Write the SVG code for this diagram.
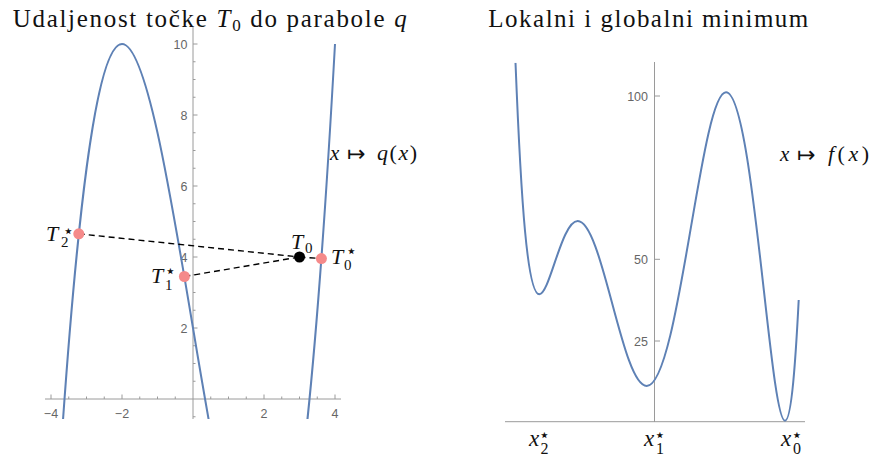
<svg xmlns="http://www.w3.org/2000/svg" width="872" height="460" viewBox="0 0 872 460">
<style>
.title{font-family:"Liberation Serif","DejaVu Serif",serif;font-size:25px;fill:#111}
.m{font-family:"Liberation Serif","DejaVu Serif",serif;font-style:italic;fill:#111}
.up{font-family:"Liberation Serif","DejaVu Serif",serif;fill:#111}
.st{font-family:"DejaVu Sans",sans-serif;fill:#111;font-size:18px;text-anchor:middle}
.arr{font-family:"DejaVu Sans",sans-serif;fill:#111;font-size:22px}
.tick{font-family:"Liberation Sans",Arial,sans-serif;font-size:12.5px;fill:#666}
.axis{stroke:#9a9a9a;stroke-width:1;fill:none}
.curve{stroke:#5e81b5;stroke-width:2;fill:none;stroke-linejoin:round}
.dash{stroke:#000;stroke-width:1.4;stroke-dasharray:6 4;fill:none}
.hit{fill:#f58a8a}
</style>
<defs>
<clipPath id="clipL"><rect x="0" y="0" width="440" height="419"/></clipPath>
<clipPath id="clipR"><rect x="440" y="62.7" width="432" height="398"/></clipPath>
</defs>

<g id="left-plot">
<text class="title" x="12.7" y="27" textLength="394" lengthAdjust="spacing">Udaljenost točke <tspan font-style="italic">T</tspan><tspan font-size="17" dy="4">0</tspan><tspan dy="-4"> do parabole </tspan><tspan font-style="italic">q</tspan></text>
<g id="left-axes">
<path class="axis" d="M45,399H341M193,27V419"/>
<path class="axis" d="M51,399v-4.5M122,399v-4.5M264,399v-4.5M335,399v-4.5M68.75,399v-2.5M86.5,399v-2.5M104.25,399v-2.5M139.75,399v-2.5M157.5,399v-2.5M175.25,399v-2.5M210.75,399v-2.5M228.5,399v-2.5M246.25,399v-2.5M281.75,399v-2.5M299.5,399v-2.5M317.25,399v-2.5"/>
<path class="axis" d="M193,328h4.5M193,257h4.5M193,186h4.5M193,115h4.5M193,44h4.5M193,416.75h2.5M193,381.25h2.5M193,363.5h2.5M193,345.75h2.5M193,310.25h2.5M193,292.5h2.5M193,274.75h2.5M193,239.25h2.5M193,221.5h2.5M193,203.75h2.5M193,168.25h2.5M193,150.5h2.5M193,132.75h2.5M193,97.25h2.5M193,79.5h2.5M193,61.75h2.5"/>
<text class="tick" x="51" y="418" text-anchor="middle">−4</text>
<text class="tick" x="122" y="418" text-anchor="middle">−2</text>
<text class="tick" x="264" y="418" text-anchor="middle">2</text>
<text class="tick" x="335" y="418" text-anchor="middle">4</text>
<text class="tick" x="187.5" y="332.5" text-anchor="end">2</text>
<text class="tick" x="187.5" y="261.5" text-anchor="end">4</text>
<text class="tick" x="187.5" y="190.5" text-anchor="end">6</text>
<text class="tick" x="187.5" y="119.5" text-anchor="end">8</text>
<text class="tick" x="187.5" y="48.5" text-anchor="end">10</text>
</g>
<path id="curve-q" class="curve" clip-path="url(#clipL)" d="M51,612C145.667,-1092 240.333,1748 335,44"/>
<g id="label-q">
<text class="m" font-size="21" x="330" y="160">x</text>
<text class="arr" x="347" y="161">↦</text>
<text class="m" font-size="22" x="377" y="160" textLength="40" lengthAdjust="spacing">q<tspan font-style="normal">(</tspan>x<tspan font-style="normal">)</tspan></text>
</g>
</g>

<g id="connectors">
<path class="dash" d="M78.8,233.8L299.5,257"/>
<path class="dash" d="M184.4,276.5L299.5,257"/>
<path class="dash" d="M299.5,257L321.4,258.6"/>
</g>

<g id="T2star">
<circle class="hit" cx="78.8" cy="233.8" r="5.5"/>
<text class="m" font-size="22" x="46" y="241">T</text>
<text class="st" x="68.5" y="236.8">⋆</text>
<text class="up" font-size="15" x="61" y="247">2</text>
</g>
<g id="T1star">
<circle class="hit" cx="184.4" cy="276.5" r="5.5"/>
<text class="m" font-size="22" x="151" y="283">T</text>
<text class="st" x="170.5" y="277.3">⋆</text>
<text class="up" font-size="15" x="165" y="290">1</text>
</g>
<g id="T0">
<circle cx="299.5" cy="257" r="5.5" fill="#000"/>
<text class="m" font-size="22" x="291" y="249">T</text>
<text class="up" font-size="15" x="305" y="253">0</text>
</g>
<g id="T0star">
<circle class="hit" cx="321.4" cy="258.6" r="5.5"/>
<text class="m" font-size="22" x="331" y="264">T</text>
<text class="st" x="351.5" y="256.8">⋆</text>
<text class="up" font-size="15" x="344" y="270">0</text>
</g>

<g id="right-plot">
<text class="title" x="488.3" y="27" textLength="320" lengthAdjust="spacing">Lokalni i globalni minimum</text>
<g id="right-axes">
<path class="axis" d="M505,421.7H805M654.5,62V422"/>
<path class="axis" d="M654.5,96h5.5M654.5,259.3h5.5M654.5,341h5.5"/>
<text class="tick" x="648" y="100.5" text-anchor="end">100</text>
<text class="tick" x="648" y="263.8" text-anchor="end">50</text>
<text class="tick" x="648" y="345.5" text-anchor="end">25</text>
</g>
<path id="curve-f" class="curve" clip-path="url(#clipR)" d="M515.5,62.7C521.07,202 527.3,294.3 539.3,294.3C549.9,294.3 561.5,221 577.7,221C602.6,221 621.8,386 646.7,386C679,386 700.5,92.3 726,92.3C753.4,92.3 769.7,420.7 785,420.7C791.6,420.7 795.7,358.8 798.7,300"/>
<g id="label-f">
<text class="m" font-size="21" x="780" y="161">x</text>
<text class="arr" x="797" y="162">↦</text>
<text class="m" font-size="22" x="828" y="161" textLength="41" lengthAdjust="spacing">f<tspan font-style="normal">(</tspan>x<tspan font-style="normal">)</tspan></text>
</g>
<g id="x2star">
<text class="m" font-size="23" x="529" y="446">x</text>
<text class="st" x="544.5" y="440.5">⋆</text>
<text class="up" font-size="16" x="540.5" y="454">2</text>
</g>
<g id="x1star">
<text class="m" font-size="23" x="644" y="446">x</text>
<text class="st" x="660" y="440.5">⋆</text>
<text class="up" font-size="16" x="656" y="454">1</text>
</g>
<g id="x0star">
<text class="m" font-size="23" x="781" y="446">x</text>
<text class="st" x="797" y="440.5">⋆</text>
<text class="up" font-size="16" x="793" y="454">0</text>
</g>
</g>
</svg>
